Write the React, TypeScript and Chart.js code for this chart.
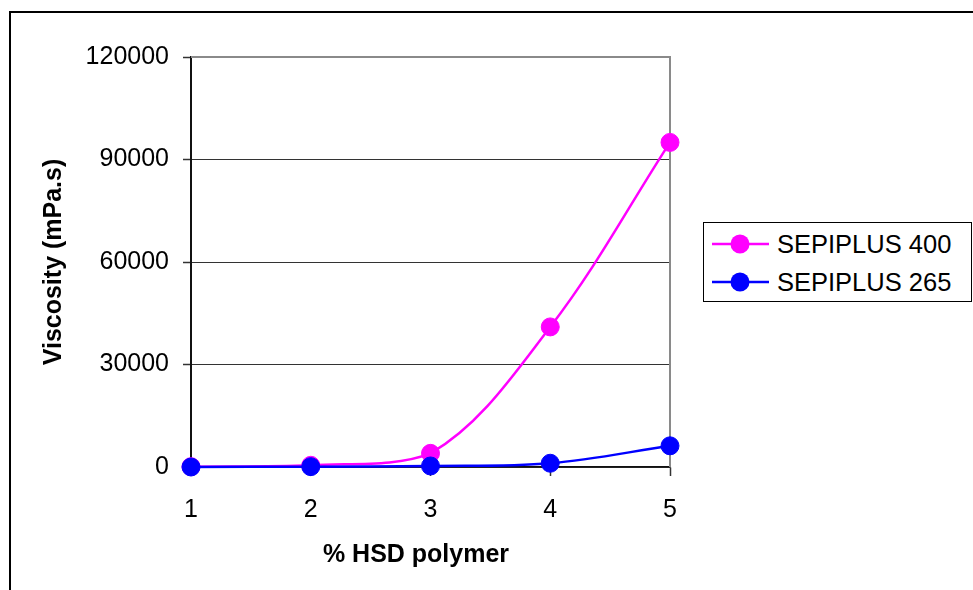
import React, { useEffect, useRef } from "react";
import { Chart, registerables } from "chart.js";

Chart.register(...registerables);

const polymerPercent = [1, 2, 3, 4, 5];
const sepiplus400 = [100, 500, 4000, 41000, 95000];
const sepiplus265 = [0, 100, 300, 1100, 6200];
const seriesNames = ["SEPIPLUS 400", "SEPIPLUS 265"];
const seriesColors = ["#ff00ff", "#0000ff"];
const yTicks = [0, 30000, 60000, 90000, 120000];
const xTitle = "% HSD polymer";
const yTitle = "Viscosity (mPa.s)";

const FONT = "'Liberation Sans', Arial, sans-serif";

const plotBorder = {
  id: "plotBorder",
  beforeDatasetsDraw(chart: any) {
    const { ctx, chartArea } = chart;
    ctx.save();
    ctx.strokeStyle = "#8a8a8a";
    ctx.lineWidth = 2;
    ctx.beginPath();
    ctx.moveTo(chartArea.left, chartArea.top);
    ctx.lineTo(chartArea.right, chartArea.top);
    ctx.lineTo(chartArea.right, chartArea.bottom);
    ctx.stroke();
    ctx.restore();
  },
};

export default function App() {
  const ref = useRef<HTMLCanvasElement | null>(null);

  useEffect(() => {
    if (!ref.current) return;
    const mk = (vals: number[]) => vals.map((v, i) => ({ x: polymerPercent[i], y: v }));
    const chart = new Chart(ref.current, {
      type: "line",
      data: {
        datasets: [
          {
            label: seriesNames[0],
            data: mk(sepiplus400),
            borderColor: seriesColors[0],
            backgroundColor: seriesColors[0],
            pointBackgroundColor: seriesColors[0],
            pointBorderColor: seriesColors[0],
            pointRadius: 9,
            pointBorderWidth: 1,
            borderWidth: 2.5,
            tension: 0.35,
            clip: false as any,
            order: 1,
          },
          {
            label: seriesNames[1],
            data: mk(sepiplus265),
            borderColor: seriesColors[1],
            backgroundColor: seriesColors[1],
            pointBackgroundColor: seriesColors[1],
            pointBorderColor: seriesColors[1],
            pointRadius: 9,
            pointBorderWidth: 1,
            borderWidth: 2.5,
            tension: 0.35,
            clip: false as any,
            order: 0,
          },
        ],
      },
      options: {
        responsive: false,
        animation: false,
        devicePixelRatio: 1,
        layout: { padding: { left: 0, top: 57, right: 303, bottom: 0 } },
        plugins: {
          legend: { display: false },
          tooltip: { enabled: false },
        },
        scales: {
          x: {
            type: "linear",
            min: 1,
            max: 5,
            afterFit: (s: any) => {
              s.height = 123;
            },
            afterBuildTicks: (s: any) => {
              s.ticks = polymerPercent.map((v) => ({ value: v }));
            },
            ticks: {
              font: { family: FONT, size: 25 },
              color: "#000",
              padding: 19,
              maxRotation: 0,
              callback: (v: any) => String(v),
            },
            grid: {
              drawOnChartArea: false,
              drawTicks: true,
              tickLength: 9,
              tickColor: "#333",
              tickWidth: 1.5,
            },
            border: { color: "#111", width: 1.5 },
            title: { display: false },
          },
          y: {
            type: "linear",
            min: 0,
            max: 120000,
            afterFit: (s: any) => {
              s.width = 191;
            },
            afterBuildTicks: (s: any) => {
              s.ticks = yTicks.map((v) => ({ value: v }));
            },
            ticks: {
              font: { family: FONT, size: 25 },
              color: "#000",
              padding: 14,
              callback: (v: any) => String(v),
            },
            grid: {
              color: (c: any) => (c.tick && c.tick.value === 120000 ? "rgba(0,0,0,0)" : "#333"),
              lineWidth: 1,
              tickLength: 8,
              tickColor: "#333",
              tickWidth: 1.5,
            },
            border: { color: "#111", width: 2 },
            title: {
              display: true,
              text: yTitle,
              font: { family: FONT, size: 25, weight: "bold" },
              color: "#000",
              padding: { top: 39, bottom: 0 },
            },
          },
        },
      },
      plugins: [plotBorder],
    });
    return () => chart.destroy();
  }, []);

  const legendRow = (i: number, top: number) => (
    <div
      key={i}
      style={{
        position: "absolute",
        left: 0,
        top,
        height: 38,
        display: "flex",
        alignItems: "center",
      }}
    >
      <svg width={72} height={38} style={{ display: "block" }}>
        <line x1={8} y1={19} x2={65} y2={19} stroke={seriesColors[i]} strokeWidth={2.5} />
        <circle cx={36} cy={19} r={9.5} fill={seriesColors[i]} />
      </svg>
      <span
        style={{
          fontFamily: FONT,
          fontSize: 25.5,
          color: "#000",
          whiteSpace: "nowrap",
          lineHeight: "38px",
          marginLeft: 1,
        }}
      >
        {seriesNames[i]}
      </span>
    </div>
  );

  return (
    <div
      style={{
        position: "fixed",
        left: 0,
        top: 0,
        width: 973,
        height: 590,
        overflow: "hidden",
        background: "#fff",
      }}
    >
      <div
        style={{
          position: "absolute",
          left: 9,
          top: 11,
          width: 1100,
          height: 800,
          border: "2px solid #000",
          boxSizing: "border-box",
        }}
      />
      <canvas
        ref={ref}
        width={973}
        height={590}
        style={{ position: "absolute", left: 0, top: 0, width: 973, height: 590 }}
      />
      <div
        style={{
          position: "absolute",
          left: 216,
          width: 400,
          top: 536,
          height: 34,
          lineHeight: "34px",
          textAlign: "center",
          fontFamily: FONT,
          fontSize: 25,
          fontWeight: "bold",
          color: "#000",
          whiteSpace: "nowrap",
        }}
      >
        {xTitle}
      </div>
      <div
        style={{
          position: "absolute",
          left: 703,
          top: 222,
          width: 269,
          height: 80,
          border: "1.5px solid #000",
          boxSizing: "border-box",
          background: "#fff",
        }}
      >
        {legendRow(0, 2)}
        {legendRow(1, 40)}
      </div>
    </div>
  );
}
